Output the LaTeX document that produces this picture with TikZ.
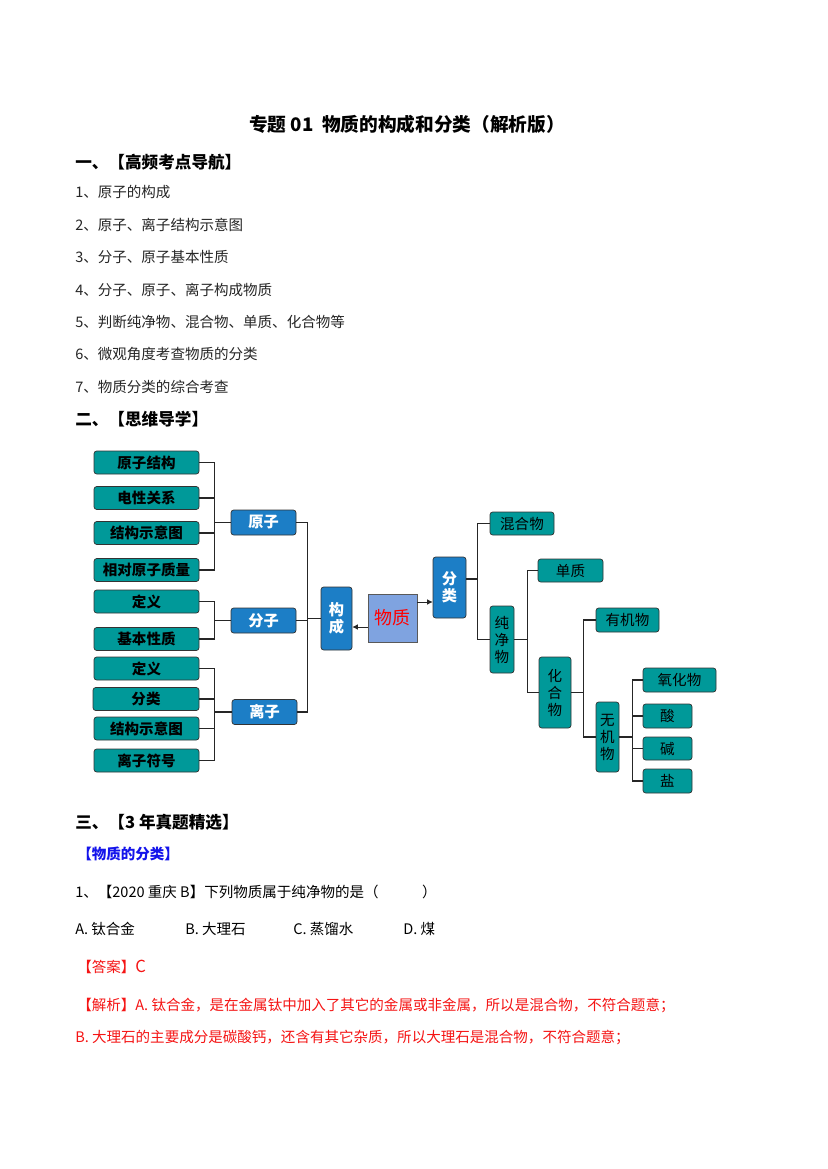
\documentclass[tikz,border=0pt]{standalone}
\usepackage{fontspec}
\setmainfont{Noto Sans CJK SC}
\usetikzlibrary{arrows.meta,positioning,calc}
\definecolor{leafteal}{RGB}{0,153,153}
\definecolor{midblue}{RGB}{28,126,198}
\definecolor{rootblue}{RGB}{127,163,224}
\definecolor{headblue}{RGB}{20,20,235}
\definecolor{ansred}{RGB}{245,20,20}
\tikzset{
    every node/.style={font=\fontsize{10.5}{13}\selectfont, inner sep=0pt},
}

\begin{document}
\begin{tikzpicture}[x=0.254mm, y=-0.254mm,
    wh/.style 2 args={minimum width=#1*0.254mm, minimum height=#2*0.254mm},
    box/.style={draw=black!80, rounded corners=2pt, line width=0.5pt, align=center},
    leaf/.style={box, fill=leafteal, text=black, font=\fontsize{10.5}{12.3}\selectfont\bfseries},
    rleaf/.style={box, fill=leafteal, text=black, font=\fontsize{10.5}{12.3}\selectfont},
    mid/.style={box, fill=midblue, text=white, font=\fontsize{11}{12.5}\selectfont\bfseries},
    link/.style={draw=black!85, line width=0.9pt},
    arr/.style={draw=black!85, line width=0.5pt, -{Latex[length=4pt,width=4pt]}},
    txt/.style={anchor=west},
    head/.style={anchor=west, font=\fontsize{12}{14}\selectfont\bfseries}]

    \fill[white] (0,0) rectangle (827,1169);
    \useasboundingbox (0,0) rectangle (827,1169);

    % page text
    \node[font=\fontsize{13.5}{16}\selectfont\bfseries] (title) at (407,124) {专题 01\ \ 物质的构成和分类（解析版）};
    \node[head] (h1) at (75,162) {一、【高频考点导航】};
    \foreach \t [count=\i] in {原子的构成,原子、离子结构示意图,分子、原子基本性质,分子、原子、离子构成物质,判断纯净物、混合物、单质、化合物等,微观角度考查物质的分类,物质分类的综合考查}
        \node[txt, text=black!85] (item\i) at (75,{192+32.5*(\i-1)}) {\i、\t};
    \node[head] (h2) at (75,419) {二、【思维导学】};
    \node[head] (h3) at (75,822) {三、【3 年真题精选】};
    \node[txt, text=headblue, font=\fontsize{10.5}{13}\selectfont\bfseries] (qhead) at (77,854) {【物质的分类】};
    \node[txt] (q1) at (75,892) {1、【2020 重庆 B】下列物质属于纯净物的是（\hspace{3em}）};
    \node[txt] (optA) at (75,929) {A. 钛合金};
    \node[txt] (optB) at (185,929) {B. 大理石};
    \node[txt] (optC) at (293,929) {C. 蒸馏水};
    \node[txt] (optD) at (403,929) {D. 煤};
    \node[txt, text=ansred] (ans) at (77,967) {【答案】{\fontsize{12}{13}\selectfont C}};
    \node[txt, text=ansred] (ana1) at (77,1005) {【解析】A. 钛合金，是在金属钛中加入了其它的金属或非金属，所以是混合物，不符合题意；};
    \node[txt, text=ansred] (ana2) at (75,1037) {B. 大理石的主要成分是碳酸钙，还含有其它杂质，所以大理石是混合物，不符合题意；};

    % left leaves
    \node[leaf, wh={105}{23}] (yzjg)   at (146.5,462.5) {原子结构};
    \node[leaf, wh={105}{23}] (dxgx)   at (146.5,498)   {电性关系};
    \node[leaf, wh={105}{23}] (jgsyt1) at (146.5,533)   {结构示意图};
    \node[leaf, wh={105}{23}] (xdyzzl) at (146.5,570)   {相对原子质量};
    \node[leaf, wh={105}{23}] (dy1)    at (146.5,601.5) {定义};
    \node[leaf, wh={105}{23}] (jbxz)   at (146.5,639)   {基本性质};
    \node[leaf, wh={105}{23}] (dy2)    at (146.5,668.5) {定义};
    \node[leaf, wh={106}{23}] (fl)     at (146,699)     {分类};
    \node[leaf, wh={105}{23}] (jgsyt2) at (146.5,728.5) {结构示意图};
    \node[leaf, wh={105}{23}] (lzfh)   at (146.5,760.5) {离子符号};

    % particles
    \node[mid, wh={65}{25}] (yz) at (263.5,522.5) {原子};
    \node[mid, wh={65}{25}] (fz) at (263.5,620.5) {分子};
    \node[mid, wh={65}{25}] (lz) at (264.5,712)   {离子};
    \node[mid, wh={31}{63}] (gc) at (336.5,618.5) {构\\成};
    \node[box, fill=rootblue, draw=black!65, rounded corners=0pt, wh={49}{48}, text=red,
          font=\fontsize{13}{15}\selectfont] (wz) at (392.5,618) {物质};
    \node[mid, wh={33}{61}] (flb) at (449.5,587.5) {分\\类};

    % classification
    \node[rleaf, wh={64}{23}] (hhw)  at (522,523.5)   {混合物};
    \node[rleaf, wh={24}{67}] (cjw)  at (502,639.5)   {纯\\净\\物};
    \node[rleaf, wh={65}{23}] (dz)   at (570.5,570.5) {单质};
    \node[rleaf, wh={32}{71}] (hhw2) at (555,692.5)   {化\\合\\物};
    \node[rleaf, wh={63}{24}] (yjw)  at (627.5,620)   {有机物};
    \node[rleaf, wh={23}{70}] (wjw)  at (607.5,737)   {无\\机\\物};
    \node[rleaf, wh={73}{24}] (yhw)  at (679.5,680)   {氧化物};
    \node[rleaf, wh={49}{24}] (suan) at (667.5,716)   {酸};
    \node[rleaf, wh={49}{23}] (jian) at (667.5,748.5) {碱};
    \node[rleaf, wh={49}{24}] (yan)  at (667.5,781)   {盐};

    % brackets
    \coordinate (jyz) at ($(yz.west)+(-16,0)$);
    \coordinate (jfz) at ($(fz.west)+(-16,0)$);
    \coordinate (jlz) at ($(lz.west)+(-17,0)$);
    \coordinate (jgc) at ($(gc.west)+(-13,0)$);
    \foreach \n in {yzjg,dxgx,jgsyt1,xdyzzl} \draw[link] (\n.east) -| (jyz);
    \foreach \n in {dy1,jbxz} \draw[link] (\n.east) -| (jfz);
    \foreach \n in {dy2,fl,jgsyt2,lzfh} \draw[link] (\n.east) -| (jlz);
    \draw[link] (jyz) -- (yz.west);
    \draw[link] (jfz) -- (fz.west);
    \draw[link] (jlz) -- (lz.west);
    \foreach \n in {yz,fz,lz} \draw[link] (\n.east) -| (jgc);
    \draw[link] (jgc) -- (gc.west);

    \draw[arr] ($(wz.west)+(0,9)$) -- ($(gc.east)+(0,8.5)$);
    \draw[arr] ($(wz.east)+(0,-16)$) -- ($(flb.west)+(0,14.5)$);

    \coordinate (jfl) at ($(flb.east)+(11,-8.5)$);
    \coordinate (jcj) at ($(cjw.east)+(13,0)$);
    \coordinate (jhh) at ($(hhw2.east)+(12,0)$);
    \coordinate (jwj) at ($(wjw.east)+(13,0)$);
    \draw[link] ($(flb.east)+(0,-8.5)$) -- (jfl);
    \foreach \n in {hhw,cjw} \draw[link] (\n.west) -| (jfl);
    \draw[link] (cjw.east) -- (jcj);
    \foreach \n in {dz,hhw2} \draw[link] (\n.west) -| (jcj);
    \draw[link] (hhw2.east) -- (jhh);
    \foreach \n in {yjw,wjw} \draw[link] (\n.west) -| (jhh);
    \draw[link] (wjw.east) -- (jwj);
    \foreach \n in {yhw,suan,jian,yan} \draw[link] (\n.west) -| (jwj);
\end{tikzpicture}
\end{document}
